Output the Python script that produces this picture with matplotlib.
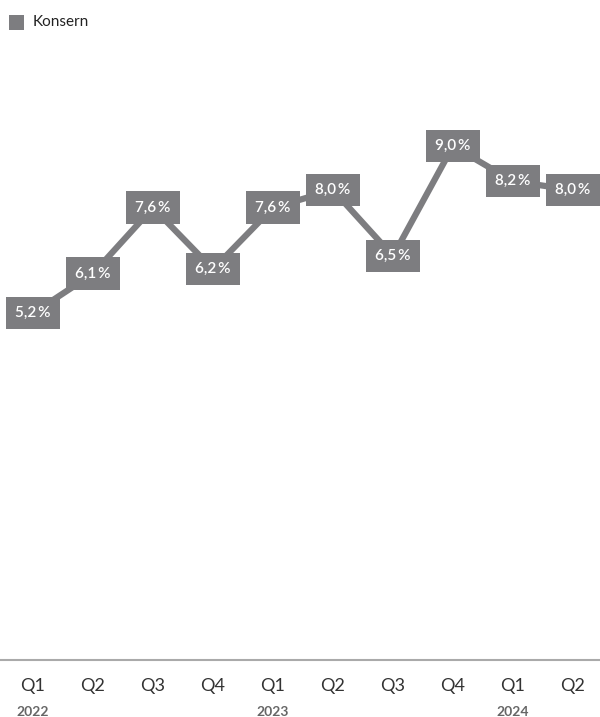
import matplotlib
matplotlib.use("Agg")
import matplotlib.pyplot as plt
from matplotlib.patches import Rectangle

quarters = ["Q1", "Q2", "Q3", "Q4", "Q1", "Q2", "Q3", "Q4", "Q1", "Q2"]
years = ["2022", "", "", "", "2023", "", "", "", "2024", ""]
values = [5.2, 6.1, 7.6, 6.2, 7.6, 8.0, 6.5, 9.0, 8.2, 8.0]
labels = ["5,2\u2009%", "6,1\u2009%", "7,6\u2009%", "6,2\u2009%", "7,6\u2009%",
          "8,0\u2009%", "6,5\u2009%", "9,0\u2009%", "8,2\u2009%", "8,0\u2009%"]
series_name = "Konsern"

GREY = "#7d7d80"
W, H = 600, 717
fig = plt.figure(figsize=(W / 100, H / 100), dpi=100)
plt.rcParams['font.family'] = ['Lato', 'DejaVu Sans']

# axes spanning pixel y 40..660
ax = fig.add_axes([0, (H - 660) / H, 1, (660 - 40) / H])
x = list(range(len(values)))
ax.plot(x, values, color=GREY, lw=4.5, solid_capstyle='butt', zorder=2)
for xi, v, lab in zip(x, values, labels):
    ax.text(xi, v, lab, ha='center', va='center', color='white', fontsize=11,
            fontweight='semibold', zorder=3,
            bbox=dict(boxstyle='square,pad=0.6', fc=GREY, ec='none'))
ax.set_xlim(-0.55, 9.45)
ax.set_ylim(-2.68, 11.41)
for s in ['top', 'right', 'left']:
    ax.spines[s].set_visible(False)
ax.spines['bottom'].set_color('#aaaaaa')
ax.spines['bottom'].set_linewidth(1.5)
ax.set_yticks([])
ax.set_xticks(x)
ax.set_xticklabels(quarters, fontsize=13, color='#333333')
ax.tick_params(axis='x', length=0, pad=13)
for xi, yr in zip(x, years):
    if yr:
        ax.annotate(yr, xy=(xi, 0), xycoords=('data', 'axes fraction'),
                    xytext=(0, -52), textcoords='offset pixels',
                    ha='center', va='center', fontsize=10, fontweight='bold', color='#666666')

# legend
fig.patches.append(Rectangle((9 / W, 1 - 30 / H), 15 / W, 15 / H, transform=fig.transFigure,
                             fc=GREY, ec='none'))
fig.text(33 / W, 1 - 22 / H, series_name, ha='left', va='center', fontsize=11, color='#222222')

fig.savefig("out.png", dpi=100)
